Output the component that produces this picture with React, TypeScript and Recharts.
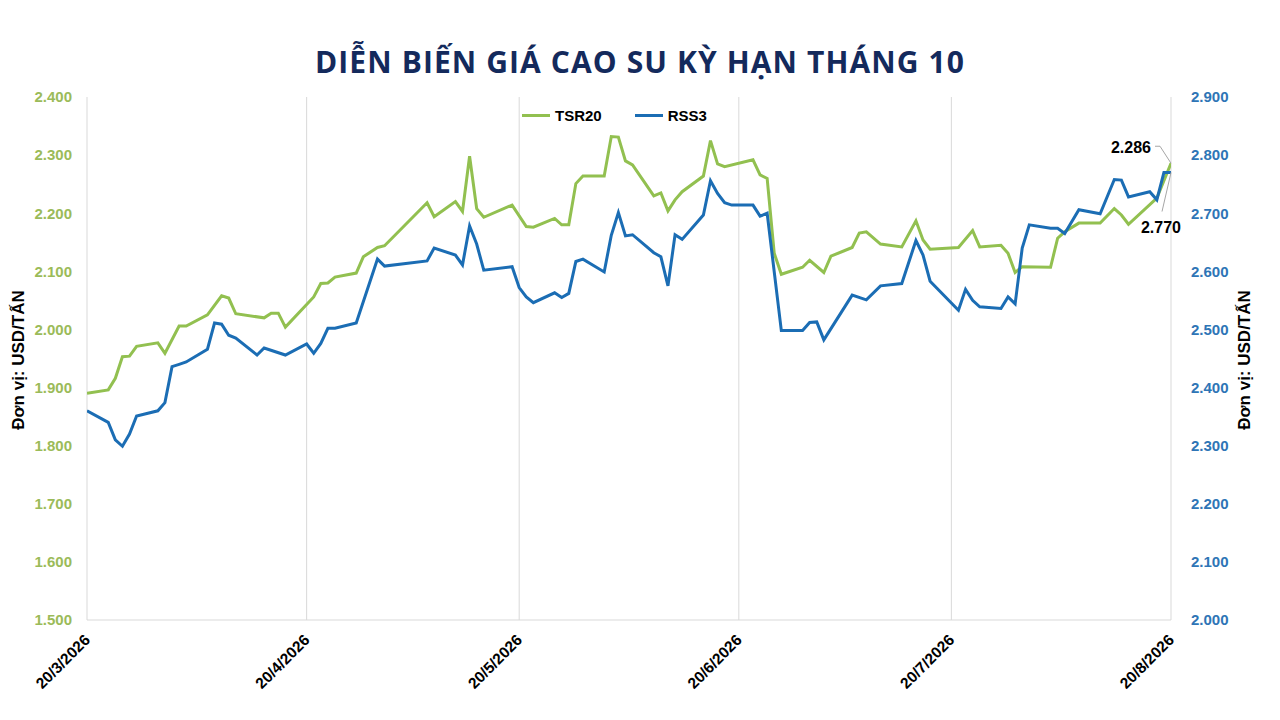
import React from "react";
import { LineChart, Line, XAxis, YAxis, CartesianGrid } from "recharts";

const TITLE = "DIỄN BIẾN GIÁ CAO SU KỲ HẠN THÁNG 10";
const UNIT = "Đơn vị: USD/TẤN";
const SERIES_NAMES = ["TSR20", "RSS3"];
const COLORS = ["#92C050", "#1B6DB4"];

// TSR20 (left axis), USD/tấn
const tsrDates = [
  "2026-03-20", "2026-03-23", "2026-03-24", "2026-03-25", "2026-03-26", "2026-03-27",
  "2026-03-30", "2026-03-31", "2026-04-02", "2026-04-03", "2026-04-06", "2026-04-08",
  "2026-04-09", "2026-04-10", "2026-04-14", "2026-04-15", "2026-04-16", "2026-04-17",
  "2026-04-21", "2026-04-22", "2026-04-23", "2026-04-24", "2026-04-27", "2026-04-28",
  "2026-04-30", "2026-05-01", "2026-05-07", "2026-05-08", "2026-05-11", "2026-05-12",
  "2026-05-13", "2026-05-14", "2026-05-15", "2026-05-19", "2026-05-21", "2026-05-22",
  "2026-05-25", "2026-05-26", "2026-05-27", "2026-05-28", "2026-05-29", "2026-06-01",
  "2026-06-02", "2026-06-03", "2026-06-04", "2026-06-05", "2026-06-08", "2026-06-09",
  "2026-06-10", "2026-06-11", "2026-06-12", "2026-06-15", "2026-06-16", "2026-06-17",
  "2026-06-18", "2026-06-22", "2026-06-23", "2026-06-24", "2026-06-25", "2026-06-26",
  "2026-06-29", "2026-06-30", "2026-07-02", "2026-07-03", "2026-07-06", "2026-07-07",
  "2026-07-08", "2026-07-10", "2026-07-13", "2026-07-15", "2026-07-16", "2026-07-17",
  "2026-07-21", "2026-07-23", "2026-07-24", "2026-07-27", "2026-07-28", "2026-07-29",
  "2026-07-30", "2026-08-03", "2026-08-04", "2026-08-05", "2026-08-07", "2026-08-10",
  "2026-08-12", "2026-08-13", "2026-08-14", "2026-08-18", "2026-08-20",
];
const tsrValues = [
  1890, 1896, 1916, 1953, 1954, 1971,
  1977, 1959, 2006, 2006, 2025, 2058,
  2054, 2027, 2020, 2028, 2028, 2004,
  2056, 2079, 2080, 2090, 2097, 2125,
  2141, 2144, 2218, 2194, 2220, 2203,
  2298, 2208, 2193, 2214, 2177, 2176,
  2191, 2180, 2180, 2251, 2264, 2264,
  2332, 2331, 2290, 2283, 2230, 2235,
  2204, 2223, 2237, 2264, 2325, 2285,
  2280, 2292, 2266, 2260, 2131, 2095,
  2107, 2119, 2098, 2126, 2141, 2166,
  2168, 2147, 2142, 2187, 2154, 2138,
  2141, 2170, 2142, 2145, 2131, 2098,
  2108, 2107, 2157, 2168, 2183, 2183,
  2208, 2197, 2181, 2226, 2286,
];

// RSS3 (right axis), USD/tấn
const rssDates = [
  "2026-03-20", "2026-03-23", "2026-03-24", "2026-03-25", "2026-03-26", "2026-03-27",
  "2026-03-30", "2026-03-31", "2026-04-01", "2026-04-02", "2026-04-03", "2026-04-06",
  "2026-04-07", "2026-04-08", "2026-04-09", "2026-04-10", "2026-04-13", "2026-04-14",
  "2026-04-17", "2026-04-20", "2026-04-21", "2026-04-22", "2026-04-23", "2026-04-24",
  "2026-04-27", "2026-04-30", "2026-05-01", "2026-05-07", "2026-05-08", "2026-05-11",
  "2026-05-12", "2026-05-13", "2026-05-14", "2026-05-15", "2026-05-19", "2026-05-20",
  "2026-05-21", "2026-05-22", "2026-05-25", "2026-05-26", "2026-05-27", "2026-05-28",
  "2026-05-29", "2026-06-01", "2026-06-02", "2026-06-03", "2026-06-04", "2026-06-05",
  "2026-06-08", "2026-06-09", "2026-06-10", "2026-06-11", "2026-06-12", "2026-06-15",
  "2026-06-16", "2026-06-17", "2026-06-18", "2026-06-19", "2026-06-22", "2026-06-23",
  "2026-06-24", "2026-06-26", "2026-06-29", "2026-06-30", "2026-07-01", "2026-07-02",
  "2026-07-06", "2026-07-08", "2026-07-10", "2026-07-13", "2026-07-15", "2026-07-16",
  "2026-07-17", "2026-07-21", "2026-07-22", "2026-07-23", "2026-07-24", "2026-07-27",
  "2026-07-28", "2026-07-29", "2026-07-30", "2026-07-31", "2026-08-03", "2026-08-04",
  "2026-08-05", "2026-08-07", "2026-08-10", "2026-08-12", "2026-08-13", "2026-08-14",
  "2026-08-17", "2026-08-18", "2026-08-19", "2026-08-20",
];
const rssValues = [
  2360, 2340, 2310, 2299, 2320, 2351,
  2360, 2374, 2436, 2440, 2444, 2466,
  2511, 2509, 2490, 2485, 2456, 2468,
  2456, 2475, 2459, 2476, 2502, 2502,
  2511, 2621, 2609, 2618, 2640, 2628,
  2611, 2678, 2647, 2602, 2608, 2572,
  2556, 2546, 2563, 2555, 2562, 2617,
  2621, 2599, 2662, 2701, 2661, 2663,
  2632, 2625, 2575, 2663, 2655, 2697,
  2756, 2734, 2718, 2714, 2714, 2695,
  2700, 2498, 2498, 2512, 2513, 2482,
  2559, 2551, 2575, 2579, 2653, 2628,
  2583, 2533, 2569, 2550, 2539, 2536,
  2556, 2544, 2640, 2680, 2674, 2674,
  2665, 2706, 2699, 2758, 2757, 2728,
  2737, 2723, 2770, 2770,
];

const monthTicks = ["2026-03-20", "2026-04-20", "2026-05-20", "2026-06-20", "2026-07-20", "2026-08-20"];
const leftTicks = [1500, 1600, 1700, 1800, 1900, 2000, 2100, 2200, 2300, 2400];
const rightTicks = [2000, 2100, 2200, 2300, 2400, 2500, 2600, 2700, 2800, 2900];

const FONT = "'Liberation Sans', Arial, sans-serif";

const toTime = (s: string) =>
  Date.UTC(Number(s.slice(0, 4)), Number(s.slice(5, 7)) - 1, Number(s.slice(8, 10)));

const fmtNum = (v: number) => {
  const r = Math.round(v);
  return `${Math.floor(r / 1000)}.${String(r % 1000).padStart(3, "0")}`;
};

const fmtDate = (t: number) => {
  const d = new Date(t);
  return `${d.getUTCDate()}/${d.getUTCMonth() + 1}/${d.getUTCFullYear()}`;
};

const tsrData = tsrDates.map((d, i) => ({ t: toTime(d), v: tsrValues[i] }));
const rssData = rssDates.map((d, i) => ({ t: toTime(d), v: rssValues[i] }));
const xTicks = monthTicks.map(toTime);

const DateTick = (props: any) => {
  const { x, y, payload } = props;
  const tx = x + 4;
  const ty = y + 21;
  return (
    <text
      x={tx}
      y={ty}
      transform={`rotate(-45, ${tx}, ${ty})`}
      textAnchor="end"
      fontSize={15.5}
      fontWeight="bold"
      fontFamily={FONT}
      fill="#000"
    >
      {fmtDate(payload.value)}
    </text>
  );
};

const TsrEndLabel = (props: any) => {
  const { x, y, index } = props;
  if (index !== tsrValues.length - 1) return null;
  return (
    <g>
      <polyline
        points={`${x},${y} ${x - 11},${y - 17} ${x - 16},${y - 17}`}
        fill="none"
        stroke="#A6A6A6"
        strokeWidth={1}
      />
      <text x={x - 20} y={y - 10} textAnchor="end" fontSize={16} fontWeight="bold" fontFamily={FONT} fill="#000">
        {fmtNum(tsrValues[index])}
      </text>
    </g>
  );
};

const RssEndLabel = (props: any) => {
  const { x, y, index } = props;
  if (index !== rssValues.length - 1) return null;
  return (
    <g>
      <line x1={x} y1={y} x2={x - 9} y2={y + 39} stroke="#A6A6A6" strokeWidth={1} />
      <text x={x - 10} y={y + 60} textAnchor="middle" fontSize={16} fontWeight="bold" fontFamily={FONT} fill="#000">
        {fmtNum(rssValues[index])}
      </text>
    </g>
  );
};

const unitStyle: React.CSSProperties = {
  position: "absolute",
  top: 360,
  transform: "translate(-50%, -50%) rotate(-90deg)",
  whiteSpace: "nowrap",
  fontFamily: FONT,
  fontWeight: "bold",
  fontSize: 17,
  color: "#000",
};

export default function App() {
  return (
    <div style={{ position: "absolute", left: 0, top: 0, width: 1280, height: 720, background: "#fff" }}>
      <div
        style={{
          position: "absolute",
          top: 44,
          left: 0,
          width: 1280,
          textAlign: "center",
          fontFamily: "'Open Sans', sans-serif",
          fontWeight: 700,
          fontSize: 30,
          letterSpacing: "1.1px",
          lineHeight: "36px",
          color: "#142A5C",
        }}
      >
        {TITLE}
      </div>

      <div style={{ ...unitStyle, left: 19 }}>{UNIT}</div>
      <div style={{ ...unitStyle, left: 1245 }}>{UNIT}</div>

      <div
        style={{
          position: "absolute",
          top: 107,
          left: 522,
          display: "flex",
          alignItems: "center",
          fontFamily: FONT,
          fontWeight: "bold",
          fontSize: 15,
          zIndex: 2,
        }}
      >
        {SERIES_NAMES.map((name, i) => (
          <div key={name} style={{ display: "flex", alignItems: "center", marginRight: 33 }}>
            <div style={{ width: 28, height: 3, background: COLORS[i], marginRight: 5 }} />
            <span>{name}</span>
          </div>
        ))}
      </div>

      <LineChart width={1280} height={720} margin={{ top: 97, right: 39, bottom: 20, left: 17 }}>
        <CartesianGrid horizontal={false} stroke="#D9D9D9" />
        <XAxis
          dataKey="t"
          type="number"
          domain={[xTicks[0], xTicks[xTicks.length - 1]]}
          ticks={xTicks}
          tick={<DateTick />}
          tickLine={false}
          tickSize={0}
          tickMargin={0}
          height={80}
          axisLine={{ stroke: "#D9D9D9" }}
          allowDataOverflow
        />
        <YAxis
          yAxisId="left"
          orientation="left"
          width={70}
          domain={[1500, 2400]}
          ticks={leftTicks}
          tickFormatter={fmtNum}
          axisLine={false}
          tickLine={false}
          tickSize={0}
          tickMargin={15}
          tick={{ fill: "#9BBB59", fontSize: 15, fontWeight: "bold", fontFamily: FONT }}
        />
        <YAxis
          yAxisId="right"
          orientation="right"
          width={70}
          domain={[2000, 2900]}
          ticks={rightTicks}
          tickFormatter={fmtNum}
          axisLine={false}
          tickLine={false}
          tickSize={0}
          tickMargin={20}
          tick={{ fill: "#2E75B6", fontSize: 15, fontWeight: "bold", fontFamily: FONT }}
        />
        <Line
          yAxisId="left"
          data={tsrData}
          dataKey="v"
          name={SERIES_NAMES[0]}
          stroke={COLORS[0]}
          strokeWidth={3}
          dot={false}
          activeDot={false}
          isAnimationActive={false}
          label={<TsrEndLabel />}
        />
        <Line
          yAxisId="right"
          data={rssData}
          dataKey="v"
          name={SERIES_NAMES[1]}
          stroke={COLORS[1]}
          strokeWidth={3}
          dot={false}
          activeDot={false}
          isAnimationActive={false}
          label={<RssEndLabel />}
        />
      </LineChart>
    </div>
  );
}
